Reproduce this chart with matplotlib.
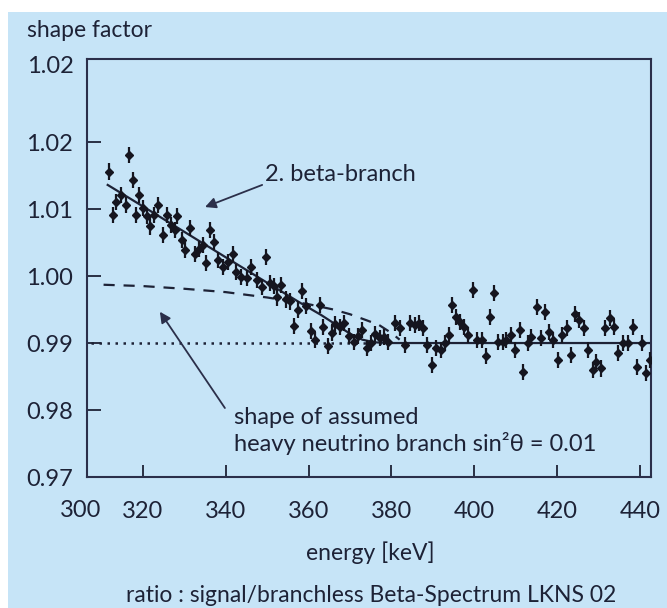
import matplotlib
matplotlib.use("Agg")
import matplotlib.pyplot as plt
from matplotlib.patches import Rectangle

plt.rcParams['font.family'] = ['Lato', 'DejaVu Sans']

BG = '#c6e4f7'
INK = '#1d2236'

# measured ratio points (energy in keV, shape factor)
energy = [311.8, 312.8, 313.6, 314.7, 315.8, 316.6, 317.5, 318.3, 319.1, 320.1,
          321.1, 321.7, 322.7, 323.7, 324.9, 325.7, 326.8, 327.7, 328.3, 329.4,
          330.2, 331.4, 332.6, 333.6, 334.4, 335.2, 336.2, 337.2, 338.2, 339.4,
          340.6, 341.7, 342.6, 343.8, 345.1, 346.0, 347.5, 348.7, 349.7, 350.8,
          351.6, 352.3, 353.4, 354.6, 355.5, 356.4, 357.4, 358.4, 359.3, 360.6,
          361.5, 362.7, 363.6, 364.7, 365.6, 366.5, 367.6, 368.6, 369.8, 370.9,
          372.0, 372.9, 374.1, 375.1, 376.0, 377.2, 378.3, 379.3, 380.9, 382.1,
          383.3, 384.6, 385.7, 386.7, 387.7, 388.7, 389.9, 390.9, 391.9, 392.9,
          393.9, 394.7, 395.6, 396.6, 397.5, 398.6, 399.8, 400.7, 401.8, 402.8,
          403.8, 404.8, 405.8, 406.9, 407.8, 408.8, 409.8, 411.0, 411.8, 413.0,
          413.8, 415.1, 416.1, 417.1, 418.1, 419.1, 420.3, 421.3, 422.3, 423.3,
          424.3, 425.4, 426.5, 427.5, 428.6, 429.5, 430.6, 431.7, 432.8, 433.7,
          434.8, 436.0, 437.2, 438.4, 439.4, 440.6, 441.6, 442.4]
ratio = [1.0156, 1.0091, 1.0110, 1.0121, 1.0106, 1.0181, 1.0143, 1.0091, 1.0121, 1.0101,
         1.0089, 1.0074, 1.0091, 1.0106, 1.0061, 1.0091, 1.0076, 1.0069, 1.0089, 1.0054,
         1.0039, 1.0072, 1.0033, 1.0040, 1.0046, 1.0019, 1.0069, 1.0051, 1.0024, 1.0014,
         1.0021, 1.0033, 1.0006, 0.9999, 0.9997, 1.0014, 0.9994, 0.9984, 1.0029, 0.9989,
         0.9985, 0.9968, 0.9987, 0.9965, 0.9962, 0.9926, 0.9950, 0.9977, 0.9955, 0.9918,
         0.9905, 0.9957, 0.9924, 0.9895, 0.9915, 0.9929, 0.9924, 0.9930, 0.9910, 0.9902,
         0.9910, 0.9919, 0.9892, 0.9900, 0.9914, 0.9908, 0.9909, 0.9902, 0.9930, 0.9922,
         0.9897, 0.9930, 0.9927, 0.9930, 0.9922, 0.9897, 0.9867, 0.9892, 0.9890, 0.9900,
         0.9912, 0.9957, 0.9939, 0.9932, 0.9924, 0.9912, 0.9979, 0.9904, 0.9904, 0.9880,
         0.9939, 0.9974, 0.9902, 0.9902, 0.9904, 0.9912, 0.9890, 0.9919, 0.9857, 0.9900,
         0.9909, 0.9954, 0.9907, 0.9947, 0.9917, 0.9904, 0.9875, 0.9912, 0.9922, 0.9882,
         0.9944, 0.9934, 0.9922, 0.9890, 0.9860, 0.9872, 0.9862, 0.9922, 0.9937, 0.9924,
         0.9885, 0.9900, 0.9900, 0.9924, 0.9864, 0.9900, 0.9855, 0.9875]
ratio_err = 0.0012
energy_err = 0.6

# fit with 2. beta-branch
fit_e = [311.5, 320, 330, 340, 350, 358, 363, 367, 370, 373, 376, 380, 443]
fit_r = [1.0136, 1.0104, 1.0066, 1.0028, 0.9990, 0.9960, 0.9942, 0.9926, 0.9914,
         0.9905, 0.9901, 0.9900, 0.9900]

# assumed heavy neutrino branch
heavy_e = [310.5, 320, 330, 340, 350, 360, 366, 370, 374, 377, 380, 382]
heavy_r = [0.9987, 0.9985, 0.9981, 0.9976, 0.9968, 0.9958, 0.9950, 0.9943, 0.9934,
           0.9927, 0.9915, 0.9905]

# baseline
base_e = [307.5, 378]
base_r = [0.990, 0.990]

x_lo, x_hi = 306.5, 442.7
y_lo, y_hi = 0.97, 1.0324
x_ticks = [320, 340, 360, 380, 400, 420, 440]
y_ticks = [0.97, 0.98, 0.99, 1.00, 1.01, 1.02]
y_tick_labels = ['0.97', '0.98', '0.99', '1.00', '1.01', '1.02']

fig = plt.figure(figsize=(6.67, 6.08), dpi=100, facecolor='white')
fig.patches.append(Rectangle((8 / 667, 0), 1, 1 - 12 / 608, transform=fig.transFigure,
                             facecolor=BG, edgecolor='none', zorder=-10))
ax = fig.add_axes([87 / 667, 131 / 608, 564 / 667, 418 / 608])
ax.set_facecolor(BG)

ax.plot(base_e, base_r, linestyle=(0, (1, 2.2)), color=INK, lw=1.8)
ax.plot(heavy_e, heavy_r, linestyle=(0, (5, 4)), color=INK, lw=1.6)
ax.plot(fit_e, fit_r, color=INK, lw=1.6)
ax.errorbar(energy, ratio, yerr=ratio_err, xerr=energy_err, fmt='D', ms=4,
            color='#15151f', ecolor='#15151f', elinewidth=1.6, capsize=0, zorder=3)

ax.set_xlim(x_lo, x_hi)
ax.set_ylim(y_lo, y_hi)
ax.set_xticks(x_ticks)
ax.set_xticklabels([str(t) for t in x_ticks])
ax.set_yticks(y_ticks)
ax.set_yticklabels(y_tick_labels)
ax.tick_params(axis='x', direction='in', length=9, width=1.3, color=INK,
               labelsize=17, labelcolor=INK, pad=17)
ax.tick_params(axis='y', direction='in', length=10, width=1.3, color=INK,
               labelsize=17, labelcolor=INK, pad=10)
for s in ax.spines.values():
    s.set_color('#2b2f4a')
    s.set_linewidth(1.5)

# extra corner labels
ax.text(-0.011, -0.079, '300', transform=ax.transAxes, ha='center', va='center',
        fontsize=17, color=INK)
ax.text(-0.023, 0.983, '1.02', transform=ax.transAxes, ha='right', va='center',
        fontsize=17, color=INK)

fig.text(27 / 667, 1 - 37 / 608, 'shape factor', ha='left', va='baseline',
         fontsize=16.5, color=INK)
fig.text(370 / 667, 1 - 553 / 608, 'energy [keV]', ha='center', va='center',
         fontsize=16.5, color=INK)
fig.text(371 / 667, 1 - 595 / 608, 'ratio : signal/branchless Beta-Spectrum LKNS 02',
         ha='center', va='center', fontsize=16.5, color=INK)

arrow = dict(arrowstyle='-|>', color='#2b2f4a', lw=1.3, mutation_scale=16,
             shrinkA=0, shrinkB=0)
ax.annotate('', xy=(335.0, 1.0103), xytext=(348.8, 1.0136), arrowprops=arrow)
ax.text(349.5, 1.0151, '2. beta-branch', ha='left', va='center', fontsize=17, color=INK)
ax.annotate('', xy=(324.1, 0.99467), xytext=(339.8, 0.9803), arrowprops=arrow)
ax.text(342.0, 0.97881, 'shape of assumed', ha='left', va='center', fontsize=17, color=INK)
ax.text(342.0, 0.97507, 'heavy neutrino branch sin\u00b2\u03b8 = 0.01', ha='left',
        va='center', fontsize=17, color=INK)

fig.savefig('out.png', dpi=100, facecolor=fig.get_facecolor())
